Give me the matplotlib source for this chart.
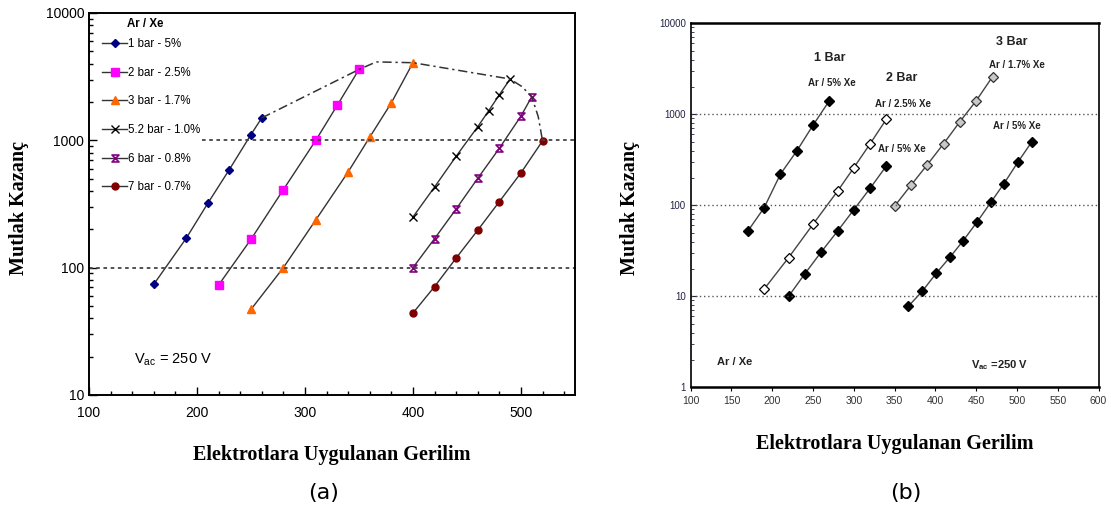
import matplotlib
matplotlib.use("Agg")
import matplotlib.pyplot as plt
from matplotlib.path import Path
from matplotlib.ticker import FixedLocator, LogLocator, NullFormatter, FixedFormatter

plt.rcParams["font.family"] = ["Liberation Sans", "DejaVu Sans"]
plt.rcParams["mathtext.default"] = "regular"

# ---- (a) data: gain vs applied voltage, Ar/Xe mixtures
v_1bar = [160, 190, 210, 230, 250, 260]
g_1bar = [74, 170, 320, 590, 1110, 1500]
v_2bar = [220, 250, 280, 310, 330, 350]
g_2bar = [73, 167, 410, 1000, 1890, 3600]
v_3bar = [250, 280, 310, 340, 360, 380, 400]
g_3bar = [47, 100, 237, 565, 1060, 1970, 4070]
v_52bar = [400, 420, 440, 460, 470, 480, 490]
g_52bar = [250, 430, 750, 1280, 1700, 2280, 3030]
v_6bar = [400, 420, 440, 460, 480, 500, 510]
g_6bar = [100, 169, 289, 503, 866, 1550, 2200]
v_7bar = [400, 420, 440, 460, 480, 500, 520]
g_7bar = [44, 71, 119, 197, 330, 555, 990]
v_env = [260, 350, 366, 400, 490, 501, 510, 516, 520]
g_env = [1500, 3600, 4130, 4070, 3030, 2640, 2200, 1535, 990]
labels_a = ["1 bar - 5%", "2 bar - 2.5%", "3 bar - 1.7%",
            "5.2 bar - 1.0%", "6 bar - 0.8%", "7 bar - 0.7%"]

# ---- (b) data
v_b1 = [170, 190, 210, 230, 250, 270]
g_b1 = [52, 94, 220, 395, 760, 1410]
v_b2a = [190, 220, 250, 280, 300, 320, 340]
g_b2a = [12, 26.6, 62, 143, 259, 475, 888]
v_b2b = [220, 240, 260, 280, 300, 320, 340]
g_b2b = [10, 17.7, 30.7, 52, 89.5, 154, 272]
v_b3a = [350, 370, 390, 410, 430, 450, 470]
g_b3a = [98, 166, 279, 475, 829, 1410, 2590]
v_b3b = [367, 384, 401, 418, 434, 451, 468, 484, 501, 518]
g_b3b = [7.8, 11.4, 17.9, 27, 40.8, 65.5, 108, 173, 297, 496]

hourglass = Path([(-1, 1), (1, 1), (-1, -1), (1, -1), (-1, 1)],
                 [Path.MOVETO, Path.LINETO, Path.LINETO, Path.LINETO, Path.CLOSEPOLY])

fig = plt.figure(figsize=(11.11, 5.2), dpi=100)
ax1 = fig.add_axes([0.0801, 0.2404, 0.4374, 0.7346])
ax2 = fig.add_axes([0.6217, 0.2552, 0.3671, 0.7000])

# ---------------- (a)
line_kw = dict(color="#333333", lw=1.0)
series_a = [
    (v_1bar, g_1bar, dict(marker="D", ms=4, mfc="#000080", mec="#000080")),
    (v_2bar, g_2bar, dict(marker="s", ms=6, mfc="#ff00ff", mec="#ff00ff")),
    (v_3bar, g_3bar, dict(marker="^", ms=6, mfc="#ff6600", mec="#ff6600")),
    (v_52bar, g_52bar, dict(marker="x", ms=6, mec="black", mew=1.0)),
    (v_6bar, g_6bar, dict(marker=hourglass, ms=5, mfc="none", mec="#800080", mew=1.2)),
    (v_7bar, g_7bar, dict(marker="o", ms=5, mfc="#800000", mec="#800000")),
]
for (v, g, mk), lab in zip(series_a, labels_a):
    ax1.plot(v, g, label=lab, **line_kw, **mk)

ax1.plot(v_env, g_env, color="#333333", lw=1.1, ls=(0, (6, 2.5, 1.5, 2.5)))
ax1.plot([100, 550], [100, 100], color="#444444", lw=1.3, ls=(0, (2, 2)))
ax1.plot([205, 550], [1000, 1000], color="#444444", lw=1.3, ls=(0, (2, 2)))

ax1.set_yscale("log")
ax1.set_xlim(100, 550)
ax1.set_ylim(10, 10000)
ax1.xaxis.set_major_locator(FixedLocator([100, 200, 300, 400, 500]))
ax1.xaxis.set_minor_locator(FixedLocator(list(range(100, 551, 20))))
ax1.yaxis.set_major_locator(FixedLocator([10, 100, 1000, 10000]))
ax1.yaxis.set_major_formatter(FixedFormatter(["10", "100", "1000", "10000"]))
ax1.yaxis.set_minor_locator(LogLocator(base=10, subs=range(2, 10)))
ax1.yaxis.set_minor_formatter(NullFormatter())
ax1.tick_params(which="both", direction="in", labelsize=10, width=1.0)
ax1.tick_params(which="major", length=6)
ax1.tick_params(which="minor", length=3)
ax1.tick_params(axis="x", pad=8)
for s in ax1.spines.values():
    s.set_linewidth(1.4)

leg = ax1.legend(loc="upper left", frameon=False, fontsize=8.3,
                 handlelength=2.2, handletextpad=0.05, labelspacing=1.45,
                 borderaxespad=0.3, bbox_to_anchor=(0.0103, 0.956))
ax1.text(0.116, 0.971, "Ar / Xe", transform=ax1.transAxes, fontsize=8.3,
         fontweight="bold", ha="center", va="center")

ax1.text(142, 18.8, r"V$_{ac}$ = 250 V", fontsize=10.5, va="center", ha="left")

ax1.set_xlabel("Elektrotlara Uygulanan Gerilim", family="Liberation Serif",
               fontweight="bold", fontsize=14.5, labelpad=18)
fig.text(0.017, 0.60, "Mutlak Kazanç", family="Liberation Serif", fontweight="bold",
         fontsize=14.5, rotation=90, ha="center", va="center")

# ---------------- (b)
bl = dict(color="#444444", lw=1.0)
ax2.plot(v_b1, g_b1, marker="D", ms=5, mfc="black", mec="black", **bl)
ax2.plot(v_b2a, g_b2a, marker="D", ms=5, mfc="white", mec="black", mew=0.9, **bl)
ax2.plot(v_b2b, g_b2b, marker="D", ms=5, mfc="black", mec="black", **bl)
ax2.plot(v_b3a, g_b3a, marker="D", ms=5, mfc="#c8c8c8", mec="#333333", mew=0.9, **bl)
ax2.plot(v_b3b, g_b3b, marker="D", ms=5, mfc="black", mec="black", **bl)

for yv in [10, 100, 1000]:
    ax2.axhline(yv, color="#555555", lw=1.0, ls=(0, (1, 2)))

ax2.set_yscale("log")
ax2.set_xlim(100, 600)
ax2.set_ylim(1, 10000)
ax2.xaxis.set_major_locator(FixedLocator(list(range(100, 601, 50))))
ax2.yaxis.set_major_locator(FixedLocator([1, 10, 100, 1000, 10000]))
ax2.yaxis.set_major_formatter(FixedFormatter(["1", "10", "100", "1000", "10000"]))
ax2.yaxis.set_minor_locator(LogLocator(base=10, subs=range(2, 10)))
ax2.yaxis.set_minor_formatter(NullFormatter())
ax2.tick_params(axis="y", which="both", direction="in", labelsize=7, colors="#222244")
ax2.tick_params(axis="y", which="major", length=4)
ax2.tick_params(axis="y", which="minor", length=2.5)
ax2.tick_params(axis="x", direction="out", length=3, labelsize=7.5, labelcolor="#333333")
for s in ax2.spines.values():
    s.set_linewidth(1.2)
ax2.spines["bottom"].set_linewidth(1.8)
ax2.spines["top"].set_linewidth(1.8)

ann_b = [
    (271, 4160, "1 Bar", 9), (273, 2210, "Ar / 5% Xe", 7),
    (359, 2505, "2 Bar", 9), (360, 1297, "Ar / 2.5% Xe", 7), (359, 416, "Ar / 5% Xe", 7),
    (494, 6240, "3 Bar", 9), (500, 3470, "Ar / 1.7% Xe", 7), (500, 742, "Ar / 5% Xe", 7),
]
for x, y, t, fs in ann_b:
    ax2.text(x, y, t, fontsize=fs, fontweight="bold", ha="center", va="center",
             color="#222222")
ax2.text(132, 1.9, "Ar / Xe", fontsize=8, fontweight="bold", ha="left", va="center",
         color="#222222")
ax2.text(479, 1.76, r"V$_{ac}$ =250 V", fontsize=8, fontweight="bold", ha="center",
         va="center", color="#222222")

ax2.set_xlabel("Elektrotlara Uygulanan Gerilim", family="Liberation Serif",
               fontweight="bold", fontsize=14.5, labelpad=20)
fig.text(0.567, 0.60, "Mutlak Kazanç", family="Liberation Serif", fontweight="bold",
         fontsize=14.5, rotation=90, ha="center", va="center")

fig.text(0.291, 0.052, "(a)", family="DejaVu Sans", fontsize=16, ha="center", va="center")
fig.text(0.815, 0.052, "(b)", family="DejaVu Sans", fontsize=16, ha="center", va="center")

fig.savefig("out.png", dpi=100)
